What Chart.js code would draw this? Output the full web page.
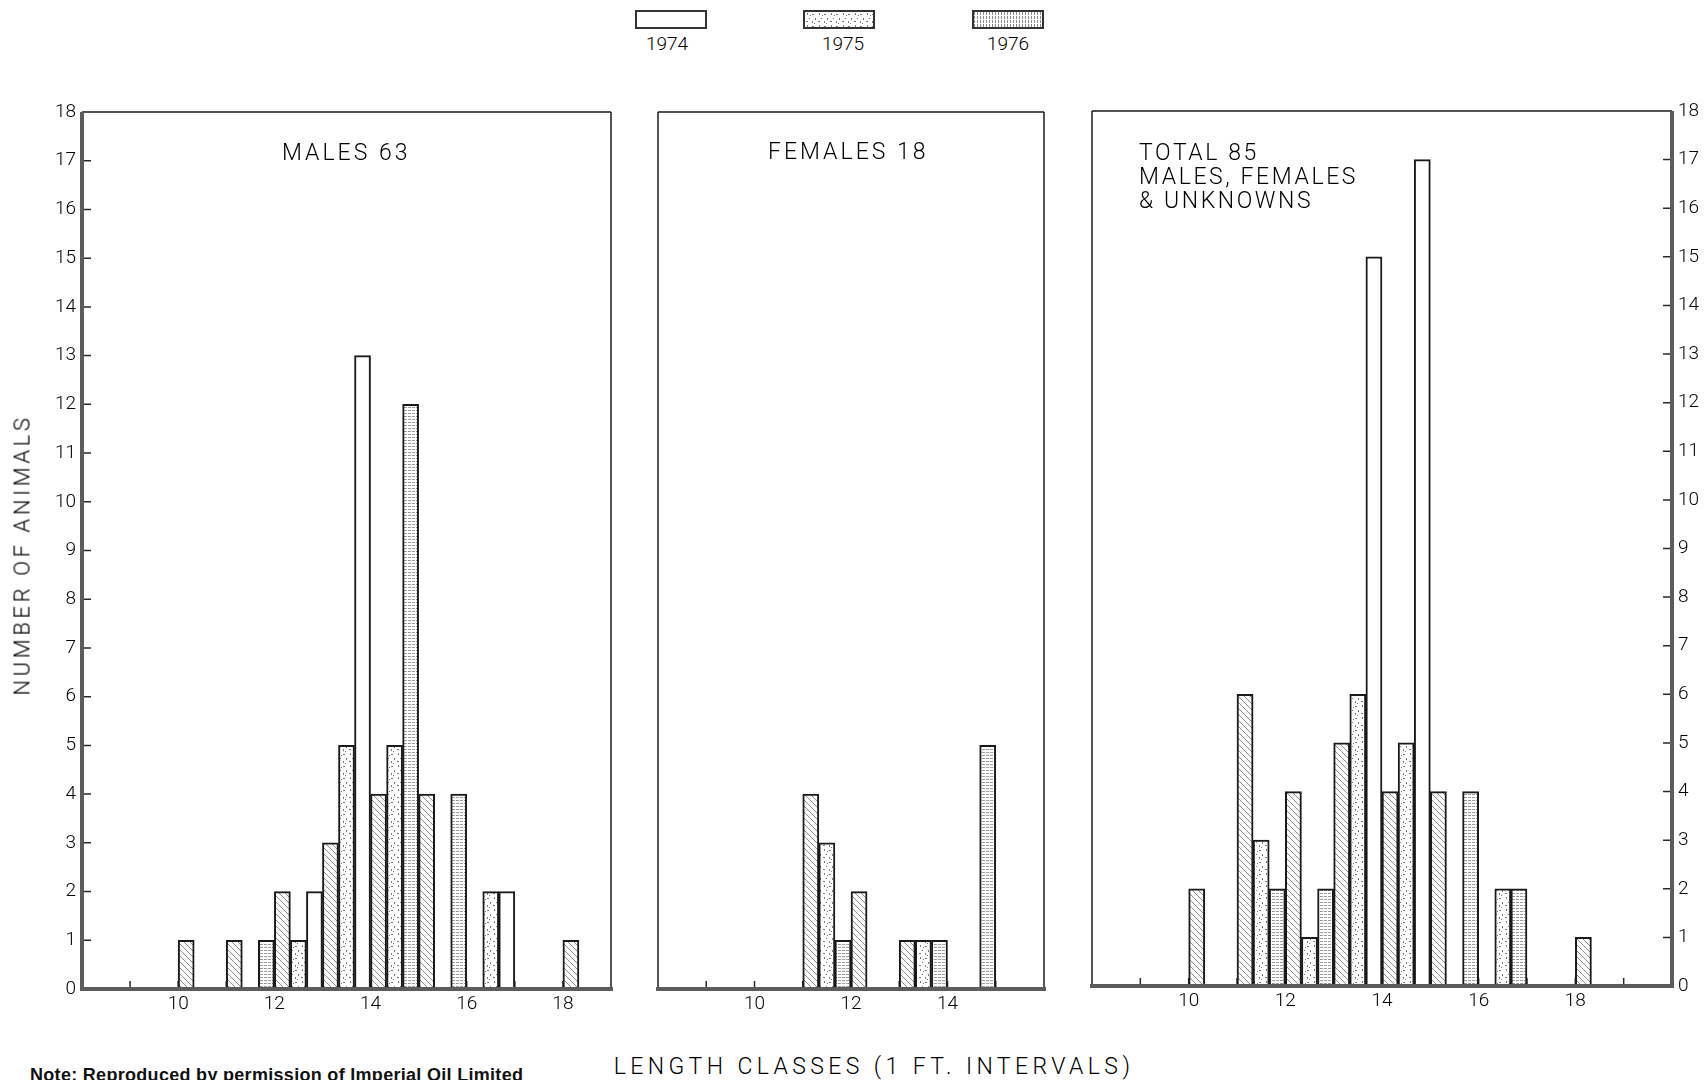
<!DOCTYPE html>
<html>
<head>
<meta charset="utf-8">
<script src="https://cdn.jsdelivr.net/npm/chart.js@4/dist/chart.umd.min.js"></script>
<style>
  html, body { margin: 0; padding: 0; background: #fff; }
  body { width: 1706px; height: 1080px; position: relative; overflow: hidden; font-family: Roboto, "DejaVu Sans", sans-serif; font-weight: 300; color: #000; }
  .abs { position: absolute; white-space: nowrap; }
  .panel { position: absolute; }
  .title { font-size: 23px; letter-spacing: 3px; line-height: 24px; }
  .sw { position: absolute; width: 72px; height: 19px; border: 2px solid #333; box-sizing: border-box; }
  .lg { font-size: 19px; transform: translateX(-50%); }
</style>
</head>
<body>
<!-- legend -->
<div class="sw" style="left:635px; top:10px; background:#fff;"></div>
<div class="sw" id="sw75" style="left:803px; top:10px;"></div>
<div class="sw" id="sw76" style="left:972px; top:10px;"></div>
<div class="abs lg" style="left:667px; top:32px;">1974</div>
<div class="abs lg" style="left:843px; top:32px;">1975</div>
<div class="abs lg" style="left:1008px; top:32px;">1976</div>

<div class="panel" style="left:0px; top:80px;"><canvas id="cMales" width="640" height="950"></canvas></div>
<div class="panel" style="left:630px; top:80px;"><canvas id="cFemales" width="440" height="950"></canvas></div>
<div class="panel" style="left:1060px; top:80px;"><canvas id="cTotal" width="646" height="950"></canvas></div>

<div class="abs title" style="left:282px; top:141px;">MALES 63</div>
<div class="abs title" style="left:768px; top:140px;">FEMALES 18</div>
<div class="abs title" style="left:1139px; top:141px; letter-spacing:2.6px;">TOTAL 85<br>MALES, FEMALES<br>&amp; UNKNOWNS</div>

<div class="abs" style="left:22px; top:555px; font-size:22px; letter-spacing:3.6px; transform: translate(-50%,-50%) rotate(-90deg);">NUMBER OF ANIMALS</div>
<div class="abs" style="left:874px; top:1066px; font-size:23px; letter-spacing:4.4px; transform: translate(-50%,-50%);">LENGTH CLASSES (1 FT. INTERVALS)</div>
<div class="abs" style="left:30px; top:1065px; font-size:18px; letter-spacing:0.3px; font-family:'Liberation Sans Narrow','Liberation Sans',sans-serif; font-weight:700; color:#111;">Note: Reproduced by permission of Imperial Oil Limited</div>

<script>
// ---------------- DATA ----------------
const lengthClasses = [10, 11, 12, 13, 14, 15, 16, 17, 18];

// first third of each 1-ft class (diagonal hatching)
const malesHatched   = [1, 1, 2, 3, 4, 4, 0, 0, 1];
// second third (stippled, 1975)
const males1975      = [0, 0, 1, 5, 5, 0, 2, 0, 0];
// last third (blank, 1974)
const males1974      = [0, 0, 2, 13, 0, 0, 2, 0, 0];
// last third (ruled, 1976)
const males1976      = [0, 1, 0, 0, 12, 4, 0, 0, 0];

const femalesHatched = [0, 4, 2, 1, 0, 0, 0, 0, 0];
const females1975    = [0, 3, 0, 1, 0, 0, 0, 0, 0];
const females1974    = [0, 0, 0, 0, 0, 0, 0, 0, 0];
const females1976    = [0, 1, 0, 1, 5, 0, 0, 0, 0];

const totalHatched   = [2, 6, 4, 5, 4, 4, 0, 0, 1];
const total1975      = [0, 3, 1, 6, 5, 0, 2, 0, 0];
const total1974      = [0, 0, 0, 15, 17, 0, 0, 0, 0];
const total1976      = [0, 2, 2, 0, 0, 4, 2, 0, 0];

const yTickValues    = [0,1,2,3,4,5,6,7,8,9,10,11,12,13,14,15,16,17,18];
const malesXLabels   = [10, 12, 14, 16, 18];
const femalesXLabels = [10, 12, 14];
const totalXLabels   = [10, 12, 14, 16, 18];

// ---------------- PATTERNS ----------------
function makePattern(kind) {
  const c = document.createElement('canvas');
  let ctx;
  if (kind === 'hatch') {
    const s = 6; c.width = s; c.height = s; ctx = c.getContext('2d');
    ctx.fillStyle = '#fff'; ctx.fillRect(0, 0, s, s);
    ctx.strokeStyle = '#8c8c8c'; ctx.lineWidth = 1;
    ctx.beginPath();
    ctx.moveTo(0, 0); ctx.lineTo(s, s);
    ctx.moveTo(-1, s - 1); ctx.lineTo(1, s + 1);
    ctx.moveTo(s - 1, -1); ctx.lineTo(s + 1, 1);
    ctx.stroke();
  } else if (kind === 'stipple') {
    c.width = 12; c.height = 12; ctx = c.getContext('2d');
    ctx.fillStyle = '#fff'; ctx.fillRect(0, 0, 12, 12);
    ctx.fillStyle = '#7a7a7a';
    [[2,1,1,2],[7,2,2,1],[10,6,1,2],[4,6,1,1],[1,9,2,1],[7,9,1,2],[5,3,1,1],[9,11,1,1]].forEach(r => ctx.fillRect(...r));
  } else if (kind === 'ruled') {
    c.width = 4; c.height = 3; ctx = c.getContext('2d');
    ctx.fillStyle = '#fff'; ctx.fillRect(0, 0, 4, 3);
    ctx.fillStyle = '#9a9a9a'; ctx.fillRect(0, 0, 3, 1);
  } else if (kind === 'vruled') {
    c.width = 3; c.height = 4; ctx = c.getContext('2d');
    ctx.fillStyle = '#fff'; ctx.fillRect(0, 0, 3, 4);
    ctx.fillStyle = '#8a8a8a'; ctx.fillRect(0, 0, 1, 3);
  }
  return c;
}
const pHatch = makePattern('hatch');
const pStipple = makePattern('stipple');
const pRuled = makePattern('ruled');
const pctx = document.createElement('canvas').getContext('2d');
const fillHatch = pctx.createPattern(pHatch, 'repeat');
const fillStipple = pctx.createPattern(pStipple, 'repeat');
const fillRuled = pctx.createPattern(pRuled, 'repeat');
document.getElementById('sw75').style.background = 'url(' + pStipple.toDataURL() + ')';
document.getElementById('sw76').style.background = 'url(' + makePattern('vruled').toDataURL() + ')';

// ---------------- CHART HELPERS ----------------
Chart.defaults.font.family = 'Roboto, "DejaVu Sans", sans-serif';
Chart.defaults.font.weight = '300';
Chart.defaults.color = '#000';

function pts(values, slot) {
  // slot: 0,1,2 third within the 1-ft class; bar centred in that third
  const out = [];
  values.forEach((v, i) => { if (v > 0) out.push({ x: lengthClasses[i] + slot / 3 + 1 / 6, y: v }); });
  return out;
}
function ds(label, values, slot, fill) {
  return {
    label, data: pts(values, slot), backgroundColor: fill,
    borderColor: '#1a1a1a', borderWidth: 2, borderSkipped: 'start',
    grouped: false, barPercentage: 1, categoryPercentage: 1
  };
}

const framePlugin = {
  id: 'frame',
  beforeDatasetsDraw(chart, args, o) {
    const { ctx, chartArea: a, scales: { x, y } } = chart;
    ctx.save();
    ctx.strokeStyle = '#2a2a2a'; ctx.lineWidth = 1.5;
    ctx.beginPath();
    for (let v = x.min + 1; v < x.max; v++) {
      const px = x.getPixelForValue(v);
      ctx.moveTo(px, a.bottom); ctx.lineTo(px, a.bottom - 8);
    }
    if (o.yTicks) {
      for (let v = 1; v < 18; v++) {
        const py = y.getPixelForValue(v);
        if (o.yTicks === 'left') { ctx.moveTo(a.left, py); ctx.lineTo(a.left + 9, py); }
        else { ctx.moveTo(a.right, py); ctx.lineTo(a.right - 9, py); }
      }
    }
    ctx.stroke();
    ctx.restore();
  },
  afterDatasetsDraw(chart, args, o) {
    const { ctx, chartArea: a } = chart;
    ctx.save();
    const thin = () => { ctx.strokeStyle = '#1a1a1a'; ctx.lineWidth = 1.5; };
    const thick = () => { ctx.strokeStyle = '#5c5c5c'; ctx.lineWidth = 4; };
    const line = (x1, y1, x2, y2) => { ctx.beginPath(); ctx.moveTo(x1, y1); ctx.lineTo(x2, y2); ctx.stroke(); };
    thin(); line(a.left, a.top, a.right, a.top);
    (o.left === 'thick' ? thick : thin)(); line(a.left, a.top, a.left, a.bottom);
    (o.right === 'thick' ? thick : thin)(); line(a.right, a.top, a.right, a.bottom);
    thick(); line(a.left - 2, a.bottom, a.right + 2, a.bottom);
    ctx.restore();
  }
};

function makeChart(id, cfg) {
  const datasets = [
    ds('hatched', cfg.hatched, 0, fillHatch),
    ds('1975', cfg.y1975, 1, fillStipple),
    ds('1974', cfg.y1974, 2, '#ffffff'),
    ds('1976', cfg.y1976, 2, fillRuled)
  ];
  return new Chart(document.getElementById(id), {
    type: 'bar',
    data: { datasets },
    plugins: [framePlugin],
    options: {
      responsive: false, animation: false, devicePixelRatio: 1,
      layout: { padding: cfg.padding },
      plugins: { legend: { display: false }, tooltip: { enabled: false }, frame: cfg.frame },
      scales: {
        x: {
          type: 'linear', min: 8, max: cfg.xMax, offset: false,
          grid: { display: false, drawTicks: false, offset: false }, border: { display: false },
          afterFit: s => { s.height = 30; },
          ticks: {
            stepSize: 1, autoSkip: false, maxRotation: 0, padding: 4,
            font: { size: 19 }, color: '#000',
            callback: v => cfg.xLabels.includes(v) ? String(v) : ''
          }
        },
        y: {
          type: 'linear', min: 0, max: 18, position: cfg.yPos, display: cfg.yDisplay,
          grid: { display: false, drawTicks: false }, border: { display: false },
          afterFit: s => { s.width = cfg.yWidth; },
          afterBuildTicks: s => { s.ticks = yTickValues.map(v => ({ value: v })); },
          ticks: { padding: 6, font: { size: 19 }, color: '#000' }
        }
      }
    }
  });
}

makeChart('cMales', {
  hatched: malesHatched, y1975: males1975, y1974: males1974, y1976: males1976,
  xMax: 19, xLabels: malesXLabels, yPos: 'left', yDisplay: true, yWidth: 82,
  padding: { left: 0, right: 29, top: 32, bottom: 11 },
  frame: { left: 'thick', right: 'thin', yTicks: 'left' }
});
makeChart('cFemales', {
  hatched: femalesHatched, y1975: females1975, y1974: females1974, y1976: females1976,
  xMax: 16, xLabels: femalesXLabels, yPos: 'left', yDisplay: false, yWidth: 0,
  padding: { left: 28, right: 26, top: 32, bottom: 11 },
  frame: { left: 'thin', right: 'thin', yTicks: null }
});
makeChart('cTotal', {
  hatched: totalHatched, y1975: total1975, y1974: total1974, y1976: total1976,
  xMax: 20, xLabels: totalXLabels, yPos: 'right', yDisplay: true, yWidth: 34,
  padding: { left: 32, right: 0, top: 31, bottom: 14 },
  frame: { left: 'thin', right: 'thick', yTicks: 'right' }
});
</script>
</body>
</html>
